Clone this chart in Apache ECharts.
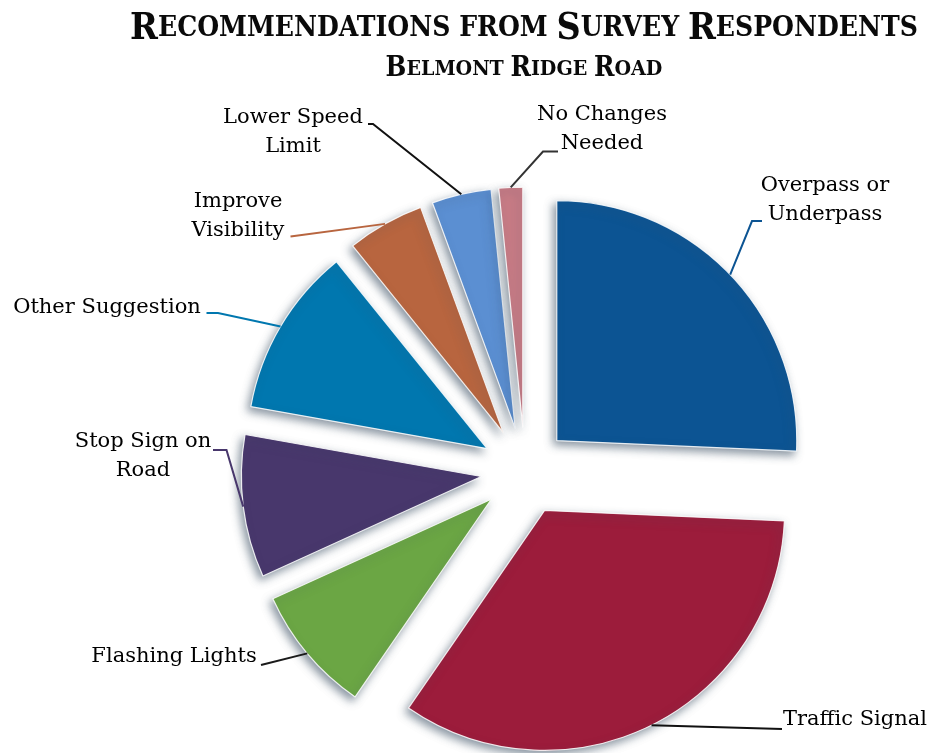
<!DOCTYPE html>
<html>
<head>
<meta charset="utf-8">
<script src="https://cdn.jsdelivr.net/npm/echarts@6/dist/echarts.min.js"></script>
<style>
html,body{margin:0;padding:0;background:#fff;}
#chart{width:933px;height:753px;}
</style>
</head>
<body>
<div id="chart"></div>
<script>
// ---- data ----
const categories = ['Overpass or Underpass', 'Traffic Signal', 'Flashing Lights', 'Stop Sign on Road',
  'Other Suggestion', 'Improve Visibility', 'Lower Speed Limit', 'No Changes Needed'];
const labelTexts = ['Overpass or\nUnderpass', 'Traffic Signal', 'Flashing Lights', 'Stop Sign on\nRoad',
  'Other Suggestion', 'Improve\nVisibility', 'Lower Speed\nLimit', 'No Changes\nNeeded'];
const shares = [25.7, 33.9, 8.6, 9.6, 11.4, 5.2, 4.0, 1.6];

// title pieces (small caps: [big initial, rest])
const titleParts = [['R', 'ECOMMENDATIONS FROM '], ['S', 'URVEY '], ['R', 'ESPONDENTS']];
const subtitleParts = [['B', 'ELMONT '], ['R', 'IDGE '], ['R', 'OAD']];

// ---- styles ----
const sliceColors = ['#0C5493', '#9C1C3B', '#6BA644', '#48376C', '#0077AF', '#B8653F', '#5B8FD2', '#C77B85'];
const leaderColors = ['#0C5493', '#111111', '#1a1a1a', '#48376C', '#0077AF', '#B8653F', '#111111', '#333333'];

// ---- layout ----
const PIE_CENTER = [525, 471];
const PIE_RADIUS = 240;
const EXPLODE = 44;
const labelSpots = [
  { x: 825, y: 200, pts: [[752, 221], [762, 221]] },
  { x: 855, y: 720, pts: [[782, 729]] },
  { x: 174, y: 657, pts: [[261, 665]] },
  { x: 143, y: 456, pts: [[226.5, 450], [213, 450]] },
  { x: 107, y: 308, pts: [[218, 313], [206.5, 313]] },
  { x: 238, y: 216, pts: [[290.5, 236.5]] },
  { x: 293, y: 132, pts: [[373, 124], [368, 124]] },
  { x: 602, y: 129, pts: [[543, 151.5], [558, 151.5]] }
];

const mctx = document.createElement('canvas').getContext('2d');
function textW(font, s) { mctx.font = font; return mctx.measureText(s).width; }
// use a condensed serif for the title when it is installed
const probe = 'RECOMMENDATIONS';
const hasCondensed = textW('bold 40px "DejaVu Serif Condensed", monospace', probe) !== textW('bold 40px monospace', probe);
const titleFont = hasCondensed ? '"DejaVu Serif Condensed"' : '"DejaVu Serif"';

function partsWidth(parts, big, small) {
  let w = 0;
  parts.forEach(p => {
    w += textW('bold ' + big + 'px ' + titleFont, p[0]);
    w += textW('bold ' + small + 'px ' + titleFont, p[1]);
  });
  return w;
}
function fitSizes(parts, big, small, target) {
  const k = target / partsWidth(parts, big, small);
  return [big * k, small * k];
}
const tSizes = fitSizes(titleParts, 40, 30, 788);
const sSizes = fitSizes(subtitleParts, 31, 24, 277);
function richText(parts) {
  return parts.map(p => '{b|' + p[0] + '}{s|' + p[1] + '}').join('');
}

const chart = echarts.init(document.getElementById('chart'));

const sliceData = categories.map((name, i) => ({
  name: name,
  value: shares[i],
  selected: true,
  itemStyle: { color: sliceColors[i] }
}));
const labelData = categories.map((name, i) => ({
  name: name,
  value: shares[i],
  labelLine: { lineStyle: { color: leaderColors[i] } }
}));

chart.setOption({
  animation: false,
  backgroundColor: '#ffffff',
  graphic: [
    {
      type: 'text', x: 524, y: 29,
      style: {
        text: richText(titleParts),
        align: 'center', verticalAlign: 'middle',
        rich: {
          b: { fontFamily: titleFont, fontWeight: 'bold', fontSize: tSizes[0], fill: '#0a0a0a', lineHeight: 44 },
          s: { fontFamily: titleFont, fontWeight: 'bold', fontSize: tSizes[1], fill: '#0a0a0a', lineHeight: 44 }
        }
      }
    },
    {
      type: 'text', x: 524, y: 69,
      style: {
        text: richText(subtitleParts),
        align: 'center', verticalAlign: 'middle',
        rich: {
          b: { fontFamily: titleFont, fontWeight: 'bold', fontSize: sSizes[0], fill: '#0a0a0a', lineHeight: 34 },
          s: { fontFamily: titleFont, fontWeight: 'bold', fontSize: sSizes[1], fill: '#0a0a0a', lineHeight: 34 }
        }
      }
    }
  ],
  series: [
    {
      type: 'pie',
      center: PIE_CENTER,
      radius: PIE_RADIUS,
      startAngle: 90,
      clockwise: true,
      selectedMode: 'multiple',
      selectedOffset: EXPLODE,
      emphasis: { disabled: true },
      silent: true,
      itemStyle: {
        borderColor: 'rgba(255,255,255,0.85)',
        borderWidth: 1.2,
        shadowBlur: 8,
        shadowColor: 'rgba(60,80,100,0.6)',
        shadowOffsetX: -3,
        shadowOffsetY: 4
      },
      label: { show: false },
      labelLine: { show: false },
      data: sliceData
    },
    {
      type: 'pie',
      center: PIE_CENTER,
      radius: PIE_RADIUS,
      startAngle: 90,
      clockwise: true,
      selectedMode: false,
      avoidLabelOverlap: false,
      emphasis: { disabled: true },
      silent: true,
      z: 3,
      itemStyle: { color: 'rgba(0,0,0,0)', borderWidth: 0 },
      label: {
        show: true,
        position: 'outside',
        formatter: p => labelTexts[p.dataIndex],
        fontFamily: 'DejaVu Serif',
        fontSize: 21,
        lineHeight: 29,
        color: '#000'
      },
      labelLine: { show: true, length: 20, length2: 10, lineStyle: { width: 2 } },
      labelLayout: function (params) {
        const spot = labelSpots[params.dataIndex];
        let start = spot.pts[0];
        if (params.labelLinePoints) {
          const p0 = params.labelLinePoints[0];
          const vx = p0[0] - PIE_CENTER[0], vy = p0[1] - PIE_CENTER[1];
          const len = Math.sqrt(vx * vx + vy * vy) || 1;
          start = [p0[0] + EXPLODE * vx / len, p0[1] + EXPLODE * vy / len];
        }
        return {
          x: spot.x, y: spot.y,
          align: 'center', verticalAlign: 'middle',
          labelLinePoints: [start].concat(spot.pts)
        };
      },
      data: labelData
    }
  ]
});
</script>
</body>
</html>
